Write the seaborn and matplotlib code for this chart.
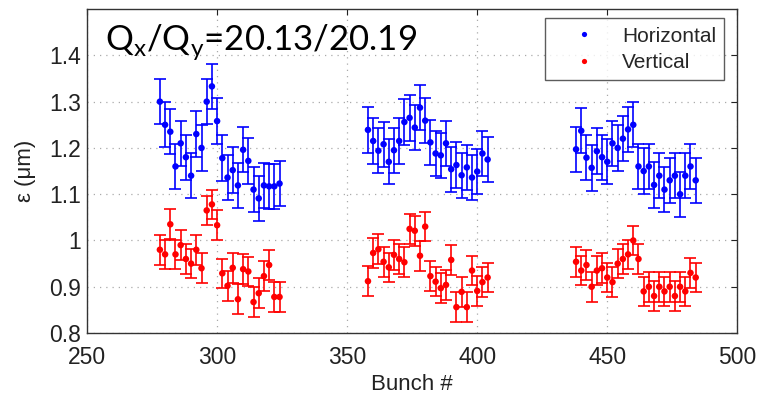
import numpy as np
import pandas as pd
import matplotlib
matplotlib.use("Agg")
import matplotlib.pyplot as plt
import seaborn as sns

# ---- data ----
bunch_b1 = list(range(278, 326, 2))
bunch_b2 = list(range(358, 406, 2))
bunch_b3 = list(range(438, 486, 2))
bunches = bunch_b1 + bunch_b2 + bunch_b3

horiz_b1 = [1.30, 1.25, 1.235, 1.16, 1.21, 1.18, 1.14, 1.23, 1.20, 1.30,
            1.333, 1.258, 1.178, 1.136, 1.152, 1.119, 1.196, 1.172, 1.110, 1.091,
            1.119, 1.117, 1.117, 1.123]
horiz_b2 = [1.239, 1.215, 1.194, 1.208, 1.170, 1.195, 1.215, 1.256, 1.265, 1.244,
            1.287, 1.259, 1.212, 1.188, 1.184, 1.210, 1.154, 1.163, 1.141, 1.158,
            1.136, 1.149, 1.188, 1.175]
horiz_b3 = [1.197, 1.237, 1.179, 1.157, 1.193, 1.18, 1.17, 1.21, 1.20, 1.22,
            1.24, 1.25, 1.16, 1.15, 1.16, 1.12, 1.14, 1.11, 1.13, 1.14,
            1.10, 1.14, 1.16, 1.13]
vert_b1 = [0.98, 0.97, 1.035, 0.97, 0.99, 0.96, 0.95, 0.98, 0.94, 1.065,
           1.078, 1.033, 0.929, 0.902, 0.941, 0.873, 0.938, 0.933, 0.867, 0.886,
           0.923, 0.947, 0.878, 0.878]
vert_b2 = [0.912, 0.973, 0.981, 0.954, 0.942, 0.969, 0.960, 0.953, 1.025, 1.021,
           0.967, 1.030, 0.923, 0.911, 0.897, 0.904, 0.958, 0.856, 0.889, 0.856,
           0.935, 0.891, 0.910, 0.920]
vert_b3 = [0.954, 0.935, 0.947, 0.900, 0.935, 0.94, 0.92, 0.91, 0.95, 0.96,
           0.97, 1.00, 0.96, 0.89, 0.90, 0.88, 0.90, 0.89, 0.90, 0.88,
           0.90, 0.89, 0.93, 0.92]
horiz_err = 0.049
vert_err = 0.032

horiz = horiz_b1 + horiz_b2 + horiz_b3
vert = vert_b1 + vert_b2 + vert_b3

df = pd.DataFrame({
    "bunch": bunches * 2,
    "emit": horiz + vert,
    "err": [horiz_err] * len(horiz) + [vert_err] * len(vert),
    "plane": ["Horizontal"] * len(horiz) + ["Vertical"] * len(vert),
})

# ---- style ----
sns.set_style("white")
plt.rcParams["font.family"] = ["Liberation Sans", "DejaVu Sans"]
plt.rcParams["mathtext.fontset"] = "custom"

fig = plt.figure(figsize=(7.57, 3.96), dpi=100)
ax = fig.add_axes([0.115, 0.159, 0.859, 0.818])

palette = {"Horizontal": "#0000ff", "Vertical": "#ff0000"}
for plane, sub in df.groupby("plane"):
    ax.errorbar(sub["bunch"], sub["emit"], yerr=sub["err"], fmt="none",
                ecolor=palette[plane], elinewidth=1.4, capsize=4.5,
                capthick=1.4, alpha=0.85, zorder=2)
sns.scatterplot(data=df, x="bunch", y="emit", hue="plane", palette=palette,
                s=22, edgecolor="none", ax=ax, zorder=3, legend=True)

ax.set_xlim(250, 500)
ax.set_ylim(0.8, 1.5)
ax.set_xticks([250, 300, 350, 400, 450, 500])
ax.set_yticks([0.8, 0.9, 1.0, 1.1, 1.2, 1.3, 1.4])
ax.set_yticklabels(["0.8", "0.9", "1", "1.1", "1.2", "1.3", "1.4"])
ax.tick_params(direction="in", length=4, width=0.8, labelsize=16.5,
               top=True, right=True, colors="#222222", labelcolor="#222222")
ax.tick_params(axis="x", pad=9)
ax.tick_params(axis="y", pad=4)
ax.grid(True, linestyle=(0, (1, 4)), color="#aaaaaa", linewidth=0.9)
for s in ax.spines.values():
    s.set_visible(True)
    s.set_color("#333333")
    s.set_linewidth(1.0)

ax.set_xlabel("Bunch #", fontsize=16, color="#222222", labelpad=4)
ax.set_ylabel("ε (μm)", fontsize=16, color="#222222", labelpad=10)

handles, labels = ax.get_legend_handles_labels()
leg = ax.legend(handles, labels, loc="upper right",
                bbox_to_anchor=(0.98, 0.972), borderaxespad=0.0,
                fancybox=False, frameon=True,
                fontsize=15, handletextpad=0.3, borderpad=0.4,
                labelspacing=0.35, handlelength=3.0, markerscale=0.8)
leg.get_frame().set_edgecolor("#333333")
leg.get_frame().set_linewidth(1.0)

ax.text(0.028, 0.96, r"Q$_\mathregular{x}$/Q$_\mathregular{y}$=20.13/20.19",
        transform=ax.transAxes, ha="left", va="top", fontsize=25,
        family=["Lato", "DejaVu Sans"], color="black", zorder=5)

fig.savefig("out.png", dpi=100)
